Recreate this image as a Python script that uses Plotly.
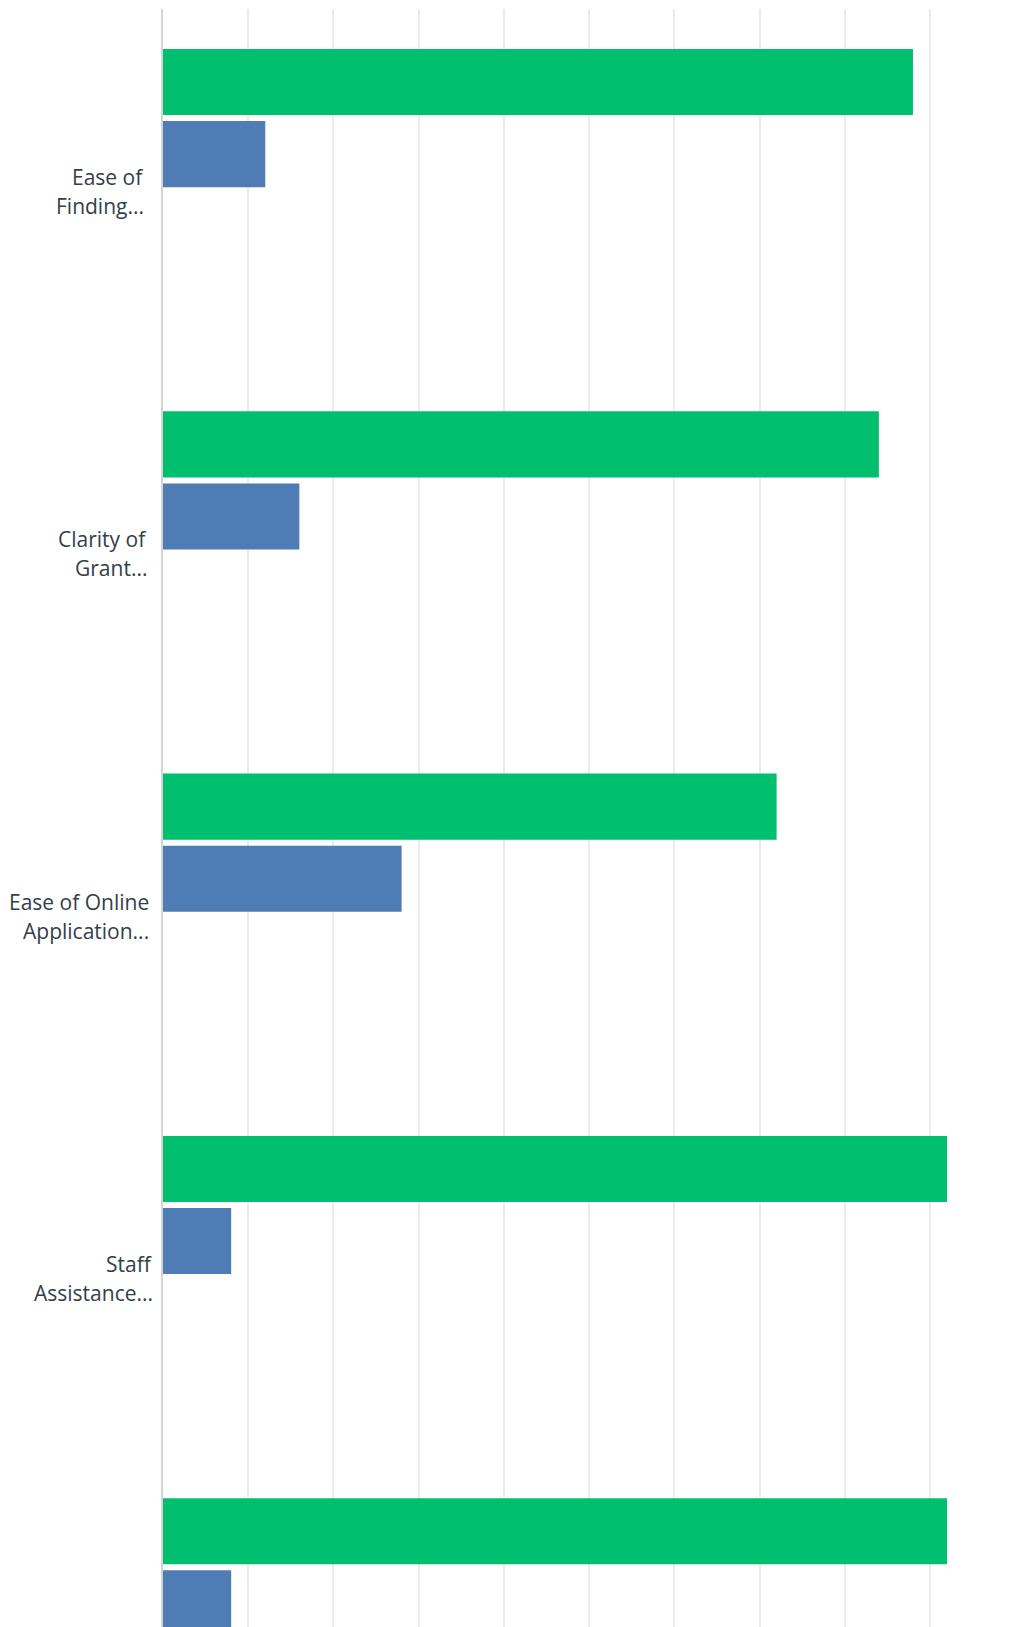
import plotly.graph_objects as go

# Survey questions (two-line, truncated labels as shown on the axis)
label_line1 = ["Ease of", "Clarity of", "Ease of Online", "Staff", ""]
label_line2 = ["Finding...", "Grant...", "Application...", "Assistance...", ""]

# Share of respondents per answer option (%)
satisfied = [88, 84, 72, 92, 92]
dissatisfied = [12, 16, 28, 8, 8]
neutral = [0, 0, 0, 0, 0]
not_applicable = [0, 0, 0, 0, 0]

positions = list(range(len(label_line1)))

GREEN = "#00bf6f"
BLUE = "#507cb6"
TEXT = "#333e48"

fig = go.Figure()
for name, vals, color in [
    ("Satisfied", satisfied, GREEN),
    ("Dissatisfied", dissatisfied, BLUE),
    ("Neutral", neutral, "#f9be00"),
    ("Not applicable", not_applicable, "#6bc8cd"),
]:
    fig.add_trace(go.Bar(
        x=vals, y=positions, orientation="h", name=name,
        marker=dict(color=color, line=dict(width=0)),
        hoverinfo="skip",
    ))

# per-label horizontal nudge (px) to the left of the axis line
label_shift = [-17, -14, -12, -8, -8]
annotations = []
for i, (l1, l2) in enumerate(zip(label_line1, label_line2)):
    for text, dy in ((l1, 13), (l2, -16)):
        if not text:
            continue
        annotations.append(dict(
            x=0, xref="paper", y=positions[i], yref="y",
            text=text, showarrow=False, xanchor="right", yanchor="middle",
            xshift=label_shift[i], yshift=dy,
            font=dict(family="Open Sans", size=21, color=TEXT),
        ))

fig.update_layout(
    width=1009, height=1627,
    margin=dict(l=163, r=0, t=9, b=0),
    plot_bgcolor="white", paper_bgcolor="white",
    barmode="group", bargap=0.2044, bargroupgap=0.0833,
    showlegend=False,
    annotations=annotations,
    xaxis=dict(
        range=[0, 99.27], dtick=10, showticklabels=False, ticks="",
        showgrid=True, gridcolor="#ebebeb", gridwidth=2,
        zeroline=False, showline=False,
    ),
    yaxis=dict(
        range=[3.966, -0.5], showticklabels=False, ticks="",
        showgrid=False, zeroline=False,
        showline=True, linecolor="#d4d4d4", linewidth=2,
    ),
)

fig.write_html("out.html")
